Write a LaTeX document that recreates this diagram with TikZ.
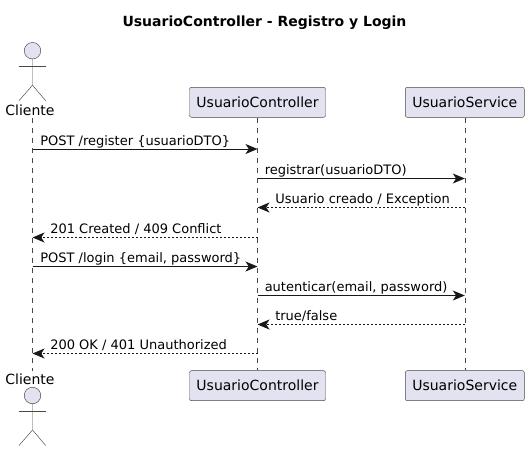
\documentclass[tikz,border=0pt]{standalone}
\usepackage{fontspec}
\setmainfont{DejaVu Sans}
\usetikzlibrary{arrows.meta}
\definecolor{partfill}{HTML}{E2E2F0}
\definecolor{partline}{HTML}{484848}
\definecolor{msgline}{HTML}{181818}
\tikzset{
	part/.style={draw=partline,fill=partfill,rounded corners=1.5pt,line width=0.35pt,font=\fontsize{10.5}{12}\selectfont,inner sep=0pt,minimum height=22.5pt},
	ctrlbox/.style={part,minimum width=102pt},
	servbox/.style={part,minimum width=89.25pt},
	actorname/.style={font=\fontsize{10.5}{12}\selectfont,text=black,inner sep=0pt},
	msg/.style={font=\fontsize{9.75}{12}\selectfont,anchor=base west,inner sep=0pt},
	lifeline/.style={draw=partline,line width=0.35pt,dash pattern=on 3.75pt off 3.75pt},
	call/.style={draw=msgline,line width=0.7pt,-{Stealth[length=9pt,width=7.5pt,inset=2.5pt]}},
	reply/.style={call,dash pattern=on 1.5pt off 1.5pt},
	actorbody/.style={draw=partline,line width=0.35pt},
	actorhead/.style={circle,draw=partline,fill=partfill,line width=0.35pt,minimum size=12.4pt,inner sep=0pt},
}
\begin{document}
\begin{tikzpicture}[x=0.75pt,y=-0.75pt]
\useasboundingbox (0,0) rectangle (529,451);

\node[font=\fontsize{10.5}{12}\selectfont\bfseries,inner sep=0pt] (title) at (264.5,23) {UsuarioController - Registro y Login};

% participants
\node[ctrlbox] (ctrlTop) at (257.5,102.3) {UsuarioController};
\node[servbox] (servTop) at (464.8,102.3) {UsuarioService};
\node[ctrlbox] (ctrlBot) at (257.5,385.7) {UsuarioController};
\node[servbox] (servBot) at (464.8,385.7) {UsuarioService};
\node[actorname] (cliTop) at (30,110) {Cliente};
\node[actorname] (cliBot) at (30,379) {Cliente};

% actors
\foreach \n/\y in {Top/50.7,Bot/395.5}{
	\node[actorhead] (head\n) at (32.5,\y) {};
	\coordinate (arm1\n) at (19,\y+15.3);
	\coordinate (arm2\n) at (45.7,\y+15.3);
	\coordinate (hip\n) at (32.5,\y+34.5);
	\coordinate (leg1\n) at (19,\y+50);
	\coordinate (leg2\n) at (45.7,\y+50);
	\path[actorbody] (head\n) -- (hip\n) -- (leg1\n);
	\path[actorbody] (hip\n) -- (leg2\n);
	\path[actorbody] (arm1\n) -- (arm2\n);
}

% lifelines
\coordinate (cliStart) at (32.5,118);
\coordinate (cliEnd) at (32.5,371);
\path[lifeline] (cliStart) -- (cliEnd);
\path[lifeline] (ctrlTop.south) -- (ctrlBot.north);
\path[lifeline] (servTop.south) -- (servBot.north);

% messages
\foreach \m/\y in {a/149,b/178.5,c/207.5,d/237.5,e/266.5,f/295.5,g/324.5,h/353.5}{
	\coordinate (c\m) at (32.5,\y);
	\coordinate (k\m) at (257.5,\y);
	\coordinate (s\m) at (464.8,\y);
}
\draw[call] (ca) -- (ka);
\draw[call] (kb) -- (sb);
\draw[reply] (sc) -- (kc);
\draw[reply] (kd) -- (cd);
\draw[call] (ce) -- (ke);
\draw[call] (kf) -- (sf);
\draw[reply] (sg) -- (kg);
\draw[reply] (kh) -- (ch);

\node[msg] (ma) at (40,145) {POST /register \{usuarioDTO\}};
\node[msg] (mb) at (264.5,174) {registrar(usuarioDTO)};
\node[msg] (mc) at (275,203.5) {Usuario creado / Exception};
\node[msg] (md) at (50,233) {201 Created / 409 Conflict};
\node[msg] (me) at (40,262) {POST /login \{email, password\}};
\node[msg] (mf) at (264.5,291.5) {autenticar(email, password)};
\node[msg] (mg) at (275,320.5) {true/false};
\node[msg] (mh) at (50,349.5) {200 OK / 401 Unauthorized};
\end{tikzpicture}
\end{document}
